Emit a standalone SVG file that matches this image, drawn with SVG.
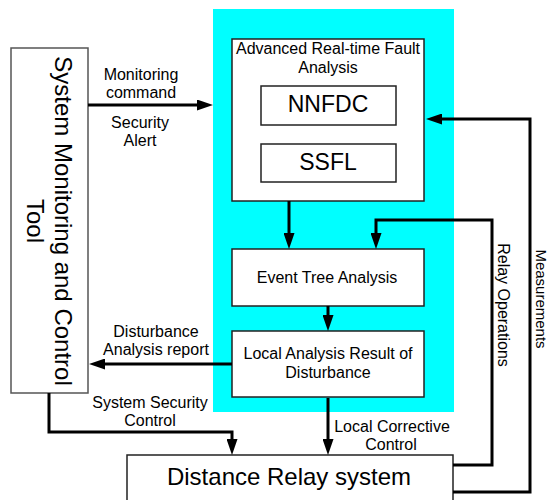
<svg xmlns="http://www.w3.org/2000/svg" width="548" height="500" viewBox="0 0 548 500">
<defs>
<marker id="ah" markerUnits="userSpaceOnUse" markerWidth="16" markerHeight="11" refX="8" refY="5.5" orient="auto">
<path d="M0,0 L16,5.5 L0,11 z" fill="#000"/>
</marker>
<style>
text{font-family:"Liberation Sans",Arial,sans-serif;fill:#000}
.box{fill:#fff;stroke:#222;stroke-width:1.5}
.gbox{fill:#fff;stroke:#555;stroke-width:1.5}
.c{fill:none;stroke:#000;stroke-width:3;stroke-linejoin:miter}
.a{marker-end:url(#ah)}
.t16{font-size:16px;text-anchor:middle}
.t15{font-size:15px;text-anchor:middle}
.t24{font-size:24px;text-anchor:middle}
.t23{font-size:23px;text-anchor:middle}
</style>
</defs>
<rect x="213" y="9" width="241" height="403" fill="#00FFFF"/>

<g id="smct">
<rect class="gbox" x="11" y="48" width="77" height="345"/>
<text class="t24" transform="translate(55,221) rotate(90)">System Monitoring and Control</text>
<text class="t24" transform="translate(27,221) rotate(90)">Tool</text>
</g>

<g id="arfa">
<rect class="box" x="232" y="39" width="192" height="162"/>
<text class="t16" x="328" y="54">Advanced Real-time Fault</text>
<text class="t16" x="328" y="73">Analysis</text>
</g>
<g id="nnfdc">
<rect class="box" x="261" y="86" width="135" height="39"/>
<text class="t23" x="328" y="112">NNFDC</text>
</g>
<g id="ssfl">
<rect class="box" x="261" y="144" width="135" height="38"/>
<text class="t23" x="328" y="170">SSFL</text>
</g>
<g id="eta">
<rect class="box" x="232" y="249" width="192" height="57"/>
<text class="t16" x="327" y="283">Event Tree Analysis</text>
</g>
<g id="lard">
<rect class="box" x="232" y="331" width="192" height="66"/>
<text class="t16" x="328" y="359">Local Analysis Result of</text>
<text class="t16" x="328" y="378">Disturbance</text>
</g>
<g id="drs">
<rect class="box" x="127" y="455" width="326" height="60"/>
<text class="t24" x="289" y="485">Distance Relay system</text>
</g>

<g id="connectors">
<path class="c a" d="M88,105 H205"/>
<path class="c a" d="M232,364 H97"/>
<path class="c a" d="M49,393 V432 H232 V447"/>
<path class="c a" d="M328,398 V447"/>
<path class="c a" d="M289,201 V241"/>
<path class="c a" d="M328,306 V323"/>
<path class="c a" d="M453,465 H492 V220 H376 V241"/>
<path class="c a" d="M453,492 H530 V119 H434"/>
<text class="t16" x="141" y="80">Monitoring</text>
<text class="t16" x="141" y="98">command</text>
<text class="t16" x="140" y="128">Security</text>
<text class="t16" x="140" y="146">Alert</text>
<text class="t16" x="156" y="337">Disturbance</text>
<text class="t16" x="156" y="355">Analysis report</text>
<text class="t16" x="150" y="408">System Security</text>
<text class="t16" x="150" y="426">Control</text>
<text class="t16" x="392" y="432">Local Corrective</text>
<text class="t16" x="391" y="450">Control</text>
<text class="t16" transform="translate(498,305) rotate(90)">Relay Operations</text>
<text class="t15" transform="translate(535.5,299) rotate(90)">Measurements</text>
</g>
</svg>
